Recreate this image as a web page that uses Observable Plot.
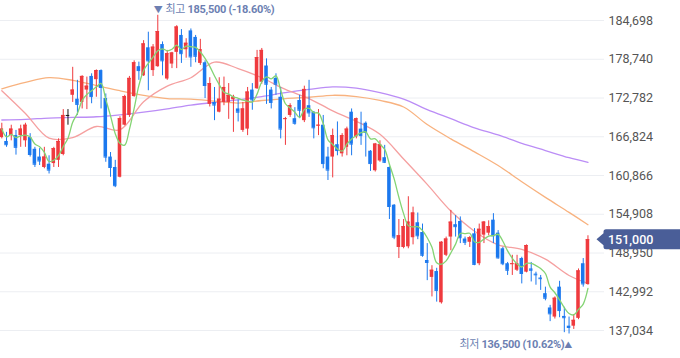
<!DOCTYPE html>
<html><head><meta charset="utf-8">
<script src="https://cdn.jsdelivr.net/npm/d3@7"></script>
<script src="https://cdn.jsdelivr.net/npm/@observablehq/plot@0.6"></script>
<style>
html,body{margin:0;padding:0;background:#fff;}
#chart{width:680px;height:358px;overflow:hidden;position:relative;}
</style></head><body><div id="chart"></div>
<script>
// Daily OHLC (won), oldest -> newest
const opens=[166700,166100,167000,167000,167000,166200,166700,164900,163700,162100,162600,162700,163200,164100,170100,173200,172600,172100,174000,176100,175600,177000,172700,163700,162100,160600,168600,170100,173000,177600,176200,180500,177000,177600,181000,175700,178000,179800,182400,180200,183100,182100,178100,178200,171800,172100,170600,172100,172100,172500,171100,167800,168000,174000,174200,175200,177700,174000,175800,172900,169500,170100,169600,172400,169300,171600,170600,168500,168600,163700,163700,165600,164200,165200,170600,166800,168000,168900,164600,161600,163100,163600,162100,156300,149800,149800,149900,151300,153600,152100,147800,145200,146100,141300,148600,151400,153300,153800,151100,150600,151900,147300,151700,152000,154000,152000,149600,147300,147200,146300,148100,146000,146500,145700,145100,142700,140500,139100,143700,139200,137700,137700,138900,147300,144100];
const highs=[168900,167500,168600,167800,168600,168900,167300,165200,165000,165200,163900,165200,166500,171000,171000,177500,175500,176200,176000,176500,177100,177100,173400,164400,163200,169900,173200,176100,178500,178300,181600,182900,181000,185500,181400,180100,179800,183900,183300,181900,183400,182400,181800,178500,175900,174400,175900,176000,175000,173200,172500,172100,174400,175000,180100,180400,178800,174400,176500,174400,169800,171900,171300,173200,174600,175500,170700,171000,170100,165200,168000,169100,167300,168300,171100,169700,170600,169100,164700,165800,166200,165500,162200,156400,154100,154100,157600,156000,155100,153400,150400,147000,146600,150700,151400,155500,154700,154500,151400,151500,152700,153400,153800,153900,155000,152400,149800,147500,148600,148600,148300,150200,147500,146000,145500,143700,140900,142200,144600,140600,139100,139500,146500,148100,151600];
const lows=[166500,165200,166200,164000,165200,165200,163700,162100,162400,161900,161100,162100,162100,163900,168600,172100,170100,171100,171000,171900,172900,171100,162900,160600,159000,160500,168500,169800,172900,175500,176100,173900,176100,177500,176200,175500,177300,177300,178100,178900,177500,178200,177800,172700,171400,169300,170500,171600,169500,167500,169100,167500,167000,170900,174100,174900,171800,171100,173200,166500,165500,169800,168600,169600,169000,169800,166500,167000,161900,160100,160500,163900,163700,163900,163900,166500,165500,163700,161500,161400,162900,162700,154100,151000,148100,149600,149600,150200,151000,148300,144700,142200,141400,141100,148400,149300,151400,150400,150100,149800,147000,147000,150400,151600,150400,148000,147000,145500,145500,146100,144200,145900,144500,144000,143200,141600,138400,138800,139000,136700,136500,137200,138700,143700,144000];
const closes=[168000,165600,168000,165200,168000,168600,164100,162600,163100,163700,161700,165000,166100,170100,170100,174000,171800,176100,174600,173000,177000,174400,163700,162100,159300,169600,173000,175800,178200,177000,181100,178500,180600,183000,178500,179600,179700,183700,179600,181200,179100,179200,180200,174700,175000,171700,172600,174400,173200,172900,170600,171100,173700,172500,179000,180100,174900,172100,174900,168000,169600,171600,168900,170900,174100,170500,168200,168600,162700,161700,167000,164700,167000,168000,165700,169600,167000,167500,162700,165700,165600,162900,156100,151400,151600,153000,153700,155100,151600,148600,147500,146300,143200,150600,151100,153700,153000,151300,150600,151300,147200,152600,153700,153000,151600,148200,147300,146300,147300,147300,145800,150100,146300,145600,145000,142000,139600,142000,140100,139000,137500,138600,146200,144200,151000];

const maDays=[0,5,10,15,20,25,30,35,40,45,50,55,60,65,70,75,80,85,90,95,100,105,110,115,120,124];
const ma20=[173900,170400,166600,166700,168400,167900,172200,174600,175900,178300,177300,175900,174100,172700,170800,169200,167200,163400,159500,155400,152300,150200,149500,148000,145500,144300];
const ma60=[174200,175200,175900,175500,174700,173900,173200,172700,172600,172300,172000,172400,172700,172900,173200,173000,172400,171400,168700,166500,164500,162400,159900,157500,155200,153300];
const ma120=[169400,169500,169700,169800,169900,170200,170600,171100,171700,172100,172500,173000,173600,174100,174500,174300,173600,172600,171000,169600,168200,167100,165800,164700,163600,162900];

const yTicks=[137034,142992,148950,154908,160866,166824,172782,178740,184698];
const highLabel={value:185500, pct:"-18.60%"};
const lowLabel={value:136500, pct:"10.62%"};

const RED="#ef3a3e", BLUE="#1b78ee";
const FONT="Roboto, 'Noto Sans CJK KR', sans-serif";

const candles=opens.map((o,i)=>({i, open:o, high:highs[i], low:lows[i], close:closes[i], dir:Math.sign(closes[i]-o)}));
const maRows=(arr)=>maDays.map((d,k)=>({i:d, v:arr[k]}));

const chart=Plot.plot({
  width:680, height:358,
  marginLeft:-1.06, marginRight:76, marginTop:0, marginBottom:0,
  x:{type:"band", domain:d3.range(128), paddingInner:0.25, paddingOuter:0.125, axis:null},
  y:{domain:[132731,187773], axis:null},
  color:{domain:[1,-1,0], range:[RED,BLUE,"#111"]},
  style:{fontFamily:FONT, background:"#fff", overflow:"hidden"},
  marks:[
    Plot.ruleY(yTicks,{stroke:"#eceef2", strokeWidth:1}),
    Plot.axisY(yTicks,{anchor:"right", tickSize:0, tickPadding:4, tickFormat:d3.format(","), fontSize:12.5, fill:"#555"}),
    Plot.line(maRows(ma120),{x:"i", y:"v", stroke:"#bb8df6", strokeWidth:1.3, curve:"catmull-rom"}),
    Plot.line(maRows(ma60),{x:"i", y:"v", stroke:"#f8b27f", strokeWidth:1.3, curve:"catmull-rom"}),
    Plot.line(maRows(ma20),{x:"i", y:"v", stroke:"#f5a0a0", strokeWidth:1.3, curve:"catmull-rom"}),
    Plot.ruleX(candles,{x:"i", y1:"low", y2:"high", stroke:"dir", strokeWidth:1}),
    Plot.barY(candles,{x:"i", y1:"open", y2:"close", fill:"dir"}),
    Plot.tickY(candles,{x:"i", y:"close", stroke:"dir"}),
    Plot.line(candles, Plot.windowY({k:5, anchor:"end", reduce:"mean"},{x:"i", y:"close", stroke:"#84d474", strokeWidth:1.3, curve:"catmull-rom"}))
  ]
});
document.getElementById("chart").appendChild(chart);

const svg=d3.select(chart);
const xs=chart.scale("x"), ys=chart.scale("y");
const cx=i=>xs.apply(i)+xs.bandwidth/2;
const fmt=d3.format(",");

// High annotation
const iHi=d3.maxIndex(highs);
const t1=svg.append("text").attr("x",cx(iHi)-3.5).attr("y",ys.apply(highLabel.value)-2)
  .attr("text-anchor","start").attr("letter-spacing","-0.3")
  .attr("font-family",FONT).attr("font-size",11).attr("fill","#6c7fb2");
t1.append("tspan").attr("font-size",9).text("▼");
t1.append("tspan").attr("dx",3).text("최고 ");
t1.append("tspan").attr("font-weight",700).text(`${fmt(highLabel.value)} (${highLabel.pct})`);

// Low annotation
const iLo=d3.minIndex(lows);
const t2=svg.append("text").attr("x",cx(iLo)+3.5).attr("y",ys.apply(lowLabel.value)+14.5)
  .attr("text-anchor","end").attr("letter-spacing","-0.3")
  .attr("font-family",FONT).attr("font-size",11).attr("fill","#6c7fb2");
t2.append("tspan").text("최저 ");
t2.append("tspan").attr("font-weight",700).text(`${fmt(lowLabel.value)} (${lowLabel.pct})`);
t2.append("tspan").attr("font-size",8).text("▲");

// Current price tag
const last=closes[closes.length-1];
const yy=ys.apply(last);
svg.append("path")
  .attr("d",`M596.5,${yy} L603.5,${yy-6} L603.5,${yy-7.5} Q603.5,${yy-10} 606,${yy-10} L680,${yy-10} L680,${yy+10} L606,${yy+10} Q603.5,${yy+10} 603.5,${yy+7.5} L603.5,${yy+6} Z`)
  .attr("fill","#4a5e98");
svg.append("text").attr("x",608).attr("y",yy).attr("dy","0.35em").attr("text-anchor","start")
  .attr("font-family",FONT).attr("font-size",12.5).attr("font-weight",500).attr("fill","#fff").text(fmt(last));
</script>
</body></html>
